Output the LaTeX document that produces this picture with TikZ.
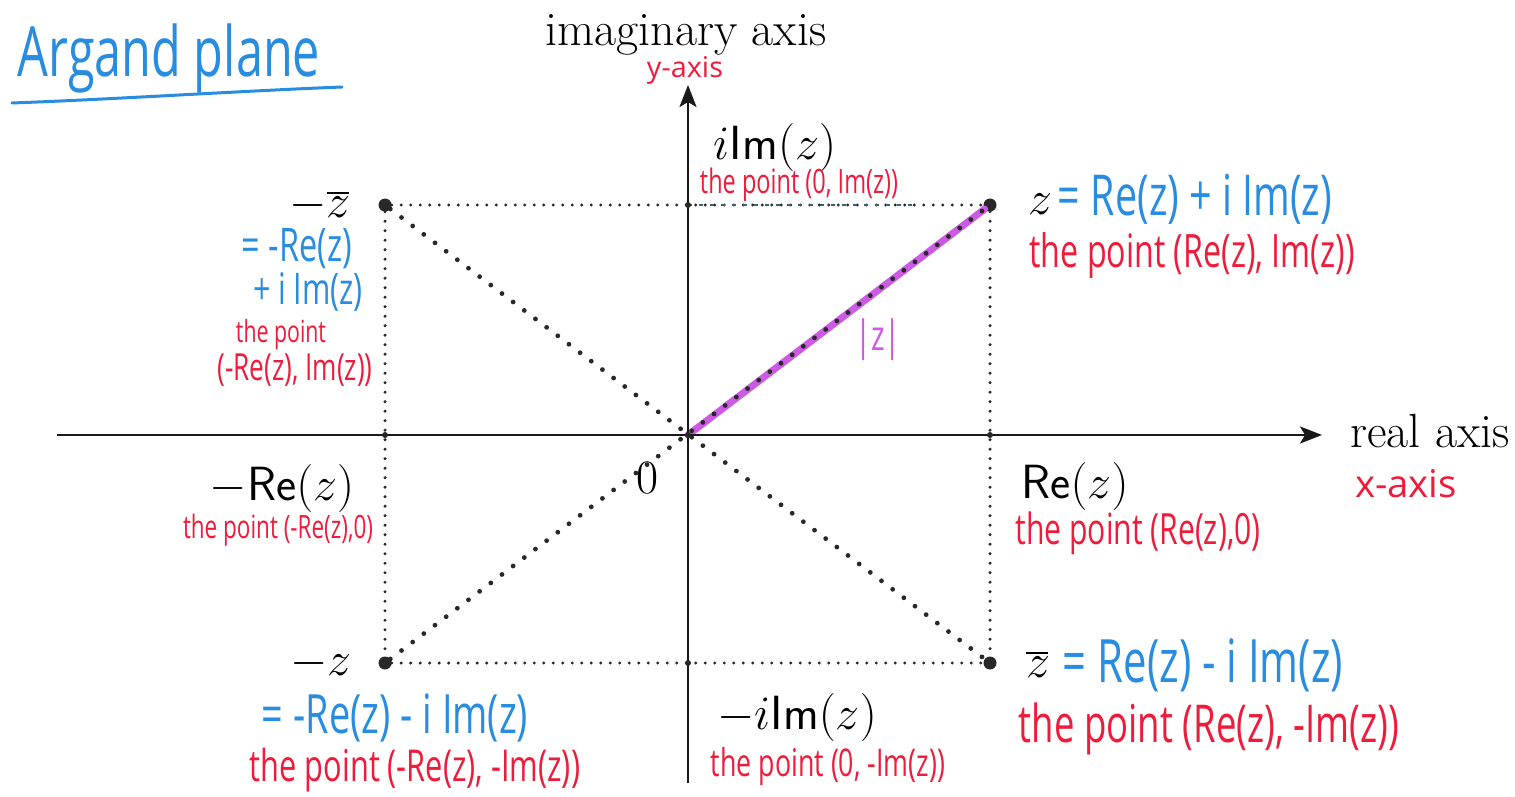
\RequirePackage{fix-cm}
\documentclass[tikz,border=0pt]{standalone}
\usepackage{fontspec}
\usetikzlibrary{arrows.meta}
\newfontfamily\hand[FakeStretch=0.7]{Open Sans}
\definecolor{hred}{RGB}{238,28,58}
\definecolor{hblue}{RGB}{40,140,225}
\definecolor{magc}{RGB}{205,90,228}
\definecolor{dotc}{RGB}{40,40,40}
\definecolor{axc}{RGB}{25,25,25}
\definecolor{tealc}{RGB}{60,95,120}
\newcommand{\hw}[2]{\resizebox{#1pt}{!}{\hand #2}}
\newcommand{\hwh}[3]{\resizebox{#1pt}{#2pt}{\hand #3}}
\newcommand{\barz}{\rlap{\rule[23pt]{22pt}{2.4pt}}z}
\tikzset{
  big/.style={font=\fontsize{48}{54}\selectfont, inner sep=0pt, text=black},
  hr/.style={inner sep=0pt, text=hred},
  hb/.style={inner sep=0pt, text=hblue},
  bigdot/.style={circle, fill=dotc, inner sep=0pt, minimum size=13pt},
  smalldot/.style={circle, fill=dotc, inner sep=0pt, minimum size=6pt},
  axisline/.style={line width=2.4pt, draw=axc, -{Stealth[length=22pt,width=17pt,inset=5pt]}},
  rectdots/.style={line width=3.4pt, dash pattern=on 0pt off 9.5pt, line cap=round, draw=dotc},
  diagdots/.style={line width=4.8pt, dash pattern=on 0pt off 14pt, line cap=round, draw=dotc},
  modline/.style={line width=7pt, draw=magc, line cap=round},
}
\begin{document}
\begin{tikzpicture}[x=1pt,y=-1pt]
\useasboundingbox (0,0) rectangle (1515,797);
% points
\node[bigdot] (Z) at (990,205) {};
\node[bigdot] (NZB) at (385,205) {};
\node[bigdot] (NZ) at (385,663) {};
\node[bigdot] (ZB) at (990,663) {};
\coordinate (O) at (688,435);
\coordinate (xl) at (57,435);
\coordinate (xr) at (1322,435);
\coordinate (yb) at (688,783);
\coordinate (yt) at (688,85);
\coordinate (tealend) at (912,205);
% dotted rectangle
\draw[rectdots] (NZB) -- (Z);
\draw[rectdots] (NZ) -- (ZB);
\draw[rectdots] (NZB) -- (NZ);
\draw[rectdots] (Z) -- (ZB);
\draw[line width=2.4pt, draw=tealc, dash pattern=on 4pt off 7pt] (688,205) -- (tealend);
% modulus line
\draw[modline] (O) -- (Z);
% diagonals
\draw[diagdots] (NZB) -- (ZB);
\draw[diagdots] (NZ) -- (Z);
% axes
\draw[axisline] (xl) -- (xr);
\draw[axisline] (yb) -- (yt);
% small dots
\node[smalldot] (Od) at (O) {};
\node[smalldot] (It) at (688,205) {};
\node[smalldot] (Ib) at (688,663) {};
\node[smalldot] (Rl) at (385,435) {};
\node[smalldot] (Rr) at (990,435) {};
% printed labels
\node[big, anchor=base] (imax) at (686,46) {imaginary axis};
\node[big, anchor=base west] (reax) at (1350,447) {real axis};
\node[big, anchor=base] (iim) at (775,159) {$i\mathsf{Im}(z)$};
\node[big, anchor=base] (miim) at (797,729) {$-i\mathsf{Im}(z)$};
\node[big, anchor=base] (re) at (1075,498) {$\mathsf{Re}(z)$};
\node[big, anchor=base] (mre) at (282,500) {$-\mathsf{Re}(z)$};
\node[big, anchor=base] (zero) at (647,493) {$0$};
\node[big, anchor=base] (zl) at (1040,214) {$z$};
\node[big, anchor=base] (mzbl) at (320,217) {$-\barz$};
\node[big, anchor=base] (mzl) at (321,675) {$-z$};
\node[big, anchor=base] (zbl) at (1038,677) {$\barz$};
% handwritten
\node[hb] (title) at (169,58) {\hw{302}{Argand plane}};
\coordinate (ul1) at (12,103);
\coordinate (ul2) at (342,87);
\draw[hblue, line width=3pt, line cap=round] (ul1) .. controls (120,99) and (240,91) .. (ul2);
\node[hr, anchor=base] (yax) at (685,78) {\hwh{76}{21}{y-axis}};
\node[hr] (p0im) at (799,185) {\hw{198}{the point (0, Im(z))}};
\node[hb] (zeq) at (1195,199) {\hw{274}{= Re(z) + i Im(z)}};
\node[hr] (pz) at (1192,256) {\hw{325}{the point (Re(z), Im(z))}};
\node[hb] (nzbeq1) at (297,249) {\hw{110}{= -Re(z)}};
\node[hb] (nzbeq2) at (308,292) {\hw{110}{+ i Im(z)}};
\node[hr] (pnzb1) at (281,335) {\hw{90}{the point}};
\node[hr] (pnzb2) at (295,370) {\hw{155}{(-Re(z), Im(z))}};
\node[inner sep=0pt, text=magc] (modz) at (878,340) {\hw{46}{|z|}};
\node[hr, anchor=base] (xax) at (1406,497) {\hwh{102}{28}{x-axis}};
\node[hr] (pmre) at (278,530) {\hw{190}{the point (-Re(z),0)}};
\node[hr] (pre) at (1138,533) {\hw{245}{the point (Re(z),0)}};
\node[hb] (nzeq) at (395,718) {\hw{266}{= -Re(z) - i Im(z)}};
\node[hr] (pnz) at (415,770) {\hw{330}{the point (-Re(z), -Im(z))}};
\node[hr] (pmim) at (828,767) {\hw{234}{the point (0, -Im(z))}};
\node[hb] (zbeq) at (1203,665) {\hw{280}{= Re(z) - i Im(z)}};
\node[hr] (pzb) at (1209,729) {\hw{380}{the point (Re(z), -Im(z))}};
\end{tikzpicture}
\end{document}
